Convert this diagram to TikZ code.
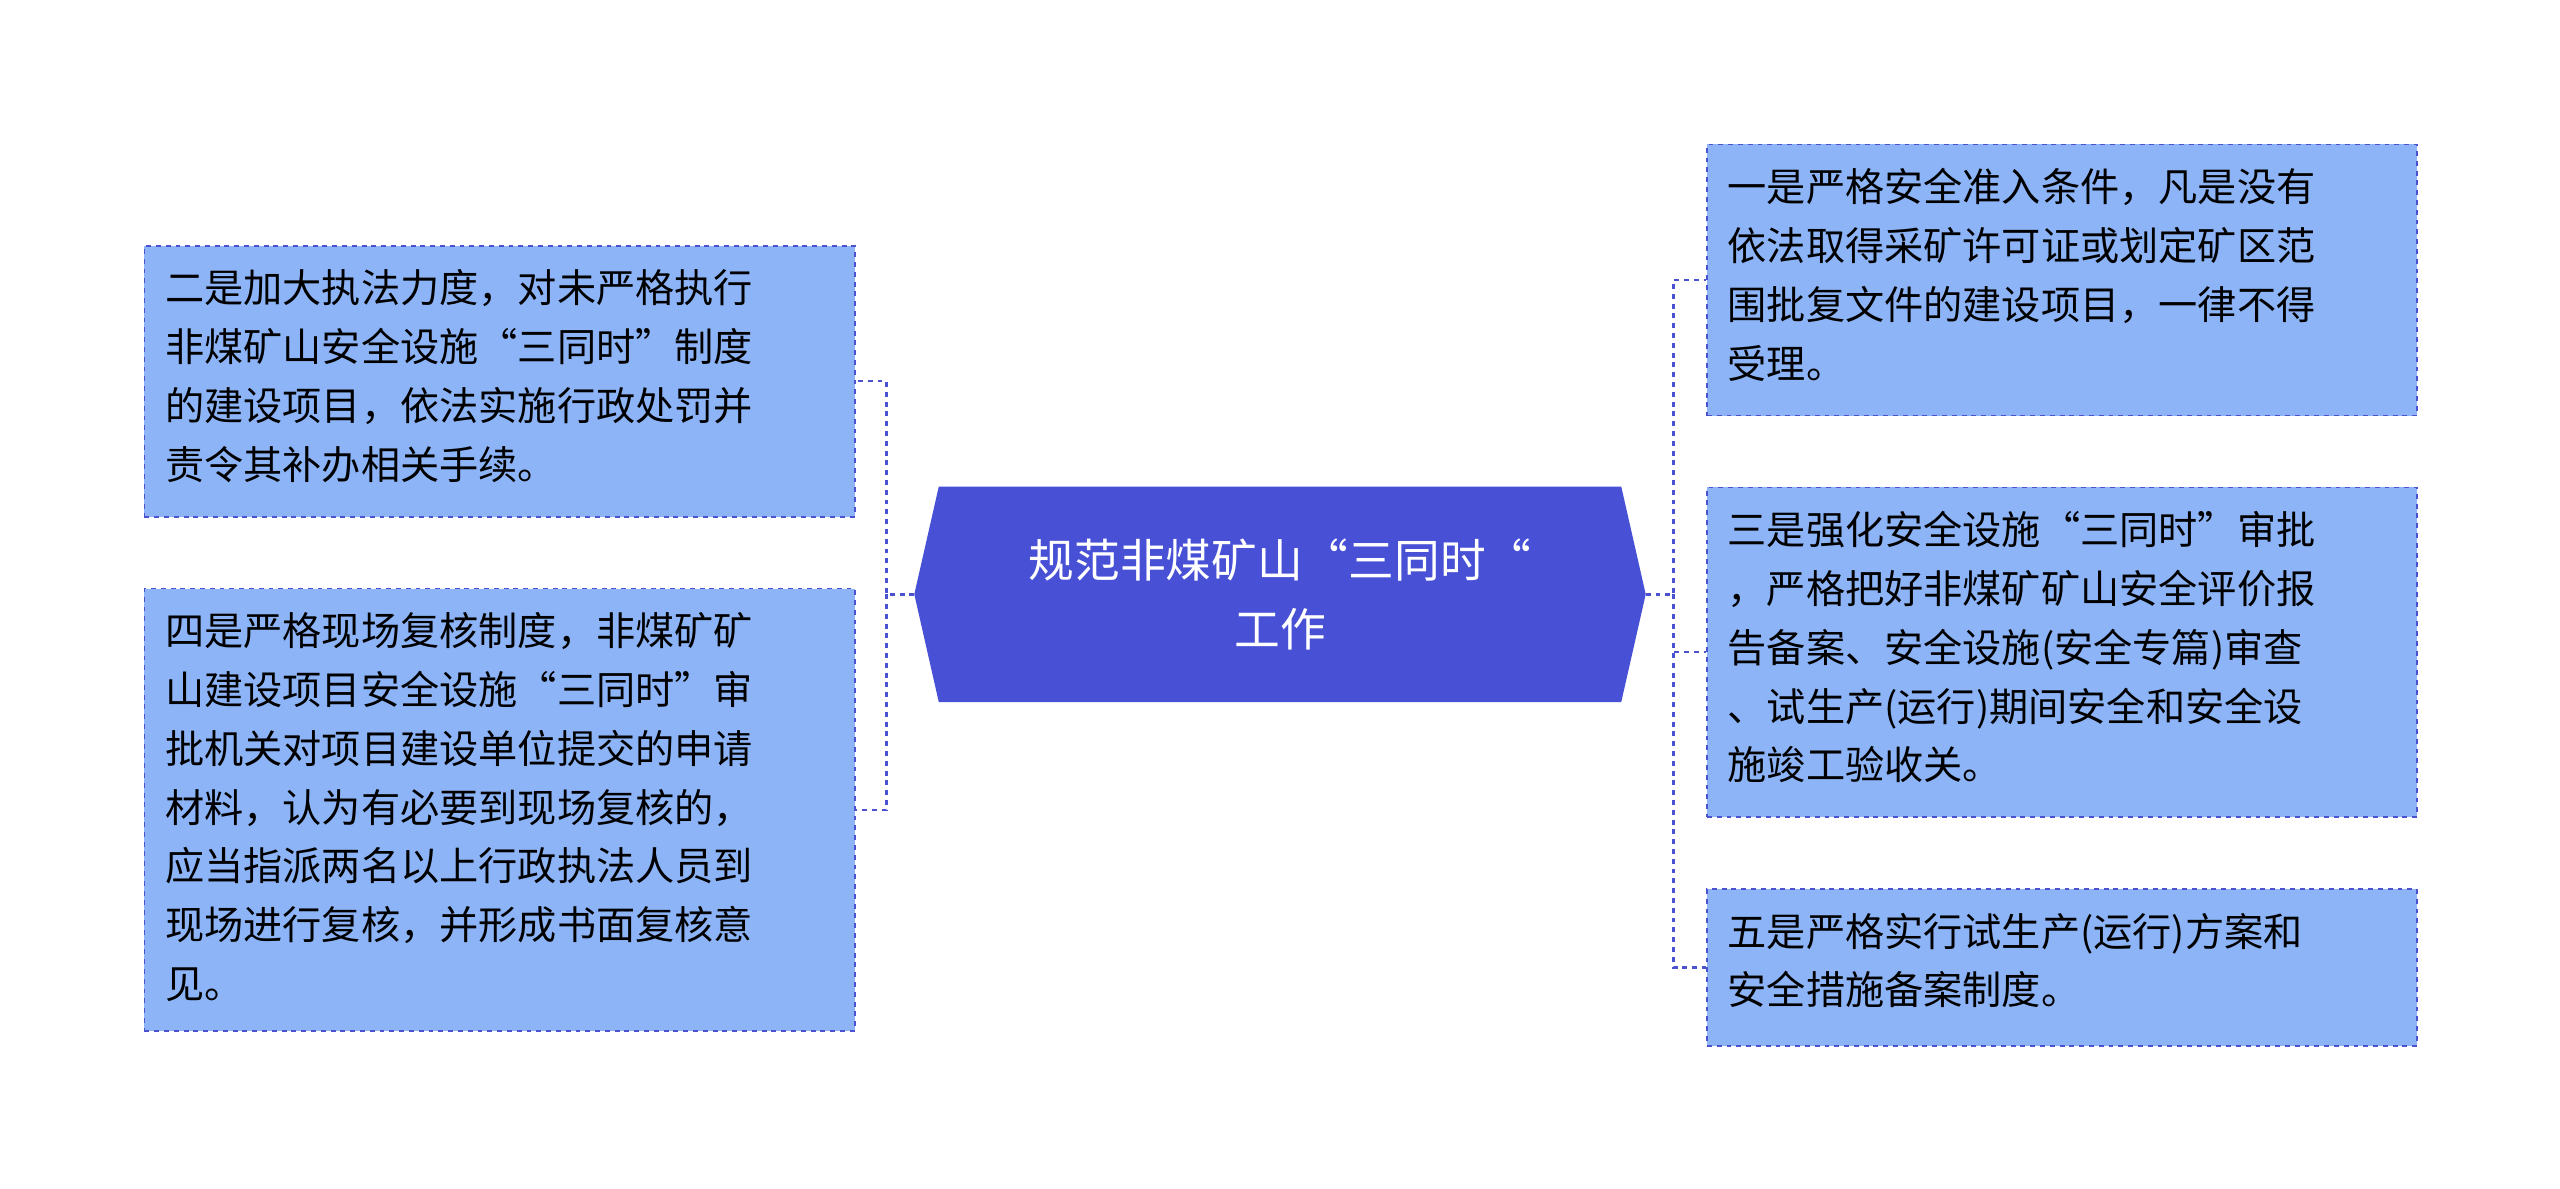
\documentclass[tikz,border=0pt]{standalone}
\usepackage{fontspec}
\setmainfont{Noto Sans CJK SC}
\begin{document}
\begin{tikzpicture}[x=1pt,y=-1pt,
  leaf/.style={draw=lineblue,fill=leafblue,dashed,line width=1pt,minimum width=435pt,text width=405pt,align=left,inner sep=0pt,font=\fontsize{24}{36}\selectfont,anchor=north west},
  conn/.style={draw=lineblue,dashed,line width=1.5pt}]
\definecolor{leafblue}{HTML}{8DB4F7}
\definecolor{lineblue}{HTML}{4A52D0}
\definecolor{coreblue}{HTML}{4851D6}
\useasboundingbox[fill=white] (0,0) rectangle (1568,728);
% center
\fill[coreblue] (560,364) -- (575,298) -- (993,298) -- (1008,364) -- (993,430) -- (575,430) -- cycle;
\node[text=white,font=\fontsize{28}{42}\selectfont,align=center] (c) at (784,364) {规范非煤矿山“三同时“\\工作};
\coordinate (cl) at (560,364);
\coordinate (cr) at (1008,364);
% left boxes
\node[leaf,minimum height=166pt] (l1) at (88,150) {};
\node[leaf,minimum height=271pt] (l2) at (88,360) {};
\node[anchor=north west,align=left,font=\fontsize{24}{36}\selectfont,inner sep=0pt] at (101,165) {二是加大执法力度，对未严格执行\\非煤矿山安全设施“三同时”制度\\的建设项目，依法实施行政处罚并\\责令其补办相关手续。};
\node[anchor=north west,align=left,font=\fontsize{24}{36}\selectfont,inner sep=0pt] at (101,375) {四是严格现场复核制度，非煤矿矿\\山建设项目安全设施“三同时”审\\批机关对项目建设单位提交的申请\\材料，认为有必要到现场复核的，\\应当指派两名以上行政执法人员到\\现场进行复核，并形成书面复核意\\见。};
% right boxes
\node[leaf,minimum height=166pt] (r1) at (1045,88) {};
\node[leaf,minimum height=202pt] (r2) at (1045,298) {};
\node[leaf,minimum height=96pt] (r3) at (1045,544) {};
\node[anchor=north west,align=left,font=\fontsize{24}{36}\selectfont,inner sep=0pt] at (1058,103) {一是严格安全准入条件，凡是没有\\依法取得采矿许可证或划定矿区范\\围批复文件的建设项目，一律不得\\受理。};
\node[anchor=north west,align=left,font=\fontsize{24}{36}\selectfont,inner sep=0pt] at (1058,313) {三是强化安全设施“三同时”审批\\，严格把好非煤矿矿山安全评价报\\告备案、安全设施(安全专篇)审查\\、试生产(运行)期间安全和安全设\\施竣工验收关。};
\node[anchor=north west,align=left,font=\fontsize{24}{36}\selectfont,inner sep=0pt] at (1058,559) {五是严格实行试生产(运行)方案和\\安全措施备案制度。};
% connectors
\draw[conn] (cl) -- (543,364) |- (l1.east);
\draw[conn] (543,364) |- (l2.east);
\draw[conn] (cr) -- (1025,364) |- (r1.west);
\draw[conn] (1025,364) |- (r2.west);
\draw[conn] (1025,364) |- (r3.west);
\end{tikzpicture}
\end{document}
